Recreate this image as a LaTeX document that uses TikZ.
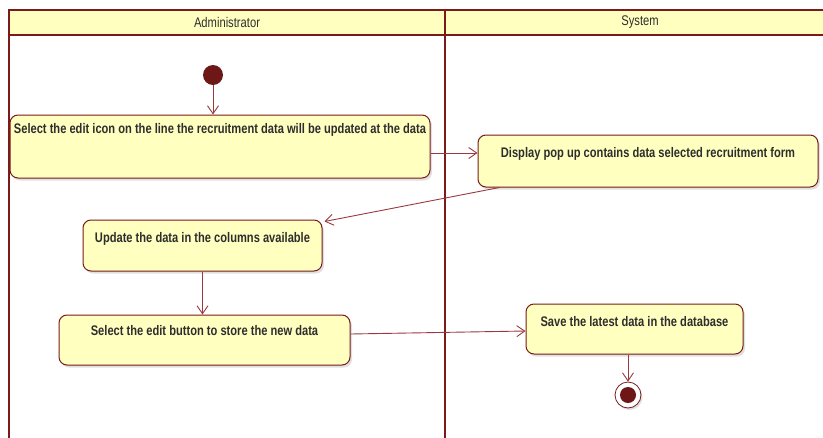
\documentclass[tikz,border=0pt]{standalone}
\usepackage{fontspec}
\setmainfont{Liberation Sans}
\newfontfamily\actfont{Liberation Sans}[FakeStretch=0.8]
\newfontfamily\lanefont{Liberation Sans}[FakeStretch=0.8]
\usetikzlibrary{arrows.meta,shadows}
\definecolor{umlred}{HTML}{7A1A1A}
\definecolor{umlline}{HTML}{9A3A40}
\definecolor{umlfill}{HTML}{FFFFC0}
\definecolor{umltext}{HTML}{2E2E2E}
\tikzset{
  activity/.style={draw=umlred, fill=umlfill, line width=1pt, rounded corners=8pt,
    inner xsep=0pt, inner ysep=0pt, align=center, text=umltext,
    font=\actfont\bfseries\fontsize{13.9}{16}\selectfont,
    drop shadow={shadow xshift=2pt, shadow yshift=-2.5pt, fill=black, opacity=0.12}},
  flow/.style={draw=umlline, line width=0.9pt, -{Straight Barb[length=8pt,width=11pt]}},
  lanehead/.style={font=\lanefont\fontsize{14}{16}\selectfont, text=umltext},
}
\begin{document}
\begin{tikzpicture}[x=1pt,y=-1pt]
\useasboundingbox (0,0) rectangle (823,437);
\fill[white] (0,0) rectangle (823,437);
% swimlane frame with header row
\fill[umlfill] (9,10) rectangle (835,35);
\draw[umlred, line width=2pt] (9,445) -- (9,10) -- (835,10);
\draw[umlred, line width=2pt] (9,35) -- (835,35);
\draw[umlred, line width=2pt] (445,10) -- (445,445);
\node[lanehead] (adminlane) at (227,22.5) {Administrator};
\node[lanehead] (systemlane) at (640,22.5) {System};

% initial node
\node[circle, fill=umlred!90!black, minimum size=20pt, inner sep=0pt] (start) at (213,75) {};

% actions
\node[activity, minimum width=420pt, text height=18.5pt, text depth=44.5pt] (b1) at (220,146.5)
  {Select the edit icon on the line the recruitment data will be updated at the data};
\node[activity, minimum width=340pt, text height=22pt, text depth=30pt] (b2) at (648,161)
  {Display pop up contains data selected recruitment form};
\node[activity, minimum width=239pt, text height=22pt, text depth=29pt] (b3) at (202.5,245.5)
  {Update the data in the columns available};
\node[activity, minimum width=291pt, text height=20pt, text depth=30pt] (b4) at (204.5,340)
  {Select the edit button to store the new data};
\node[activity, minimum width=217pt, text height=22pt, text depth=28pt] (b5) at (634.5,329)
  {Save the latest data in the database};

% final node
\node[circle, draw=umlred, line width=0.8pt, fill=white, minimum size=26pt, inner sep=0pt,
  drop shadow={shadow xshift=1.5pt, shadow yshift=-2pt, fill=black, opacity=0.12}] (final) at (628,395) {};
\node[circle, fill=umlred!90!black, minimum size=16pt, inner sep=0pt] (finaldot) at (final) {};

% control flows
\draw[flow] (start) -- (start |- b1.north);
\draw[flow] ([yshift=-6.5pt]b1.east) -- ([yshift=8pt]b2.west);
\draw[flow] ([xshift=22pt]b2.south west) -- ([xshift=2pt,yshift=-2pt]b3.north east);
\draw[flow] (b3.south) -- (b3.south |- b4.north);
\draw[flow] ([yshift=6pt]b4.east) -- ([yshift=-2pt]b5.west);
\draw[flow] (b5.south -| final) -- (final.north);
\end{tikzpicture}
\end{document}
